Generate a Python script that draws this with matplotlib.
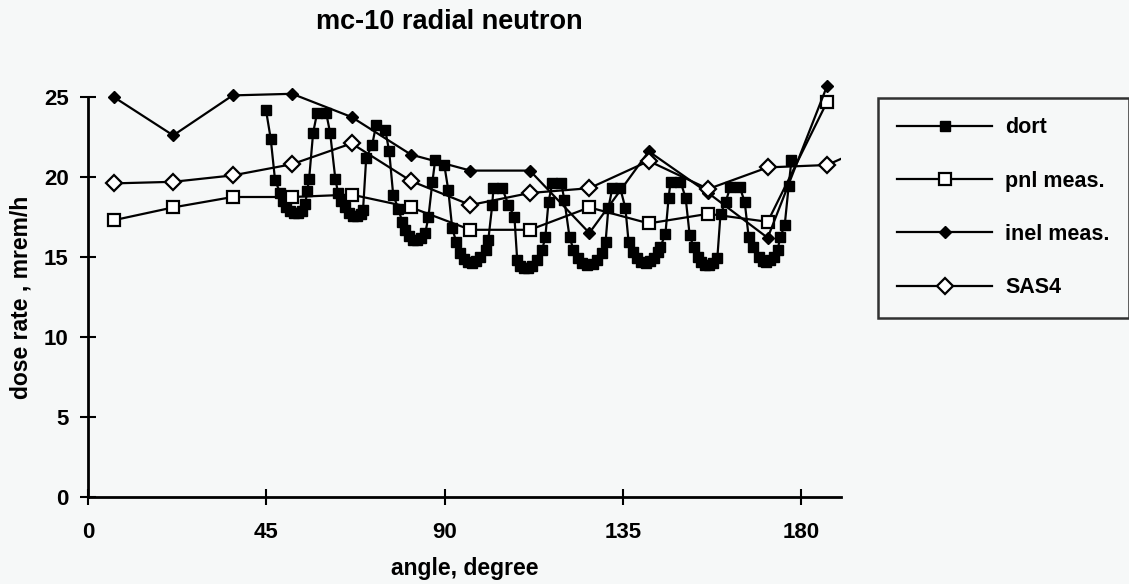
import numpy as np
import matplotlib
matplotlib.use('Agg')
import matplotlib.pyplot as plt

plt.rcParams['font.family'] = ['Liberation Sans Narrow', 'Liberation Sans', 'DejaVu Sans']
plt.rcParams['font.weight'] = 'bold'

# measurement / SAS4 angles (degree)
meas_angle = [6.5, 21.5, 36.5, 51.5, 66.5, 81.5, 96.5, 111.5, 126.5, 141.5, 156.5, 171.5, 186.5]
pnl_meas = [17.3, 18.1, 18.75, 18.75, 18.9, 18.1, 16.7, 16.7, 18.1, 17.1, 17.7, 17.2, 24.7]
inel_meas = [25.0, 22.6, 25.1, 25.2, 23.75, 21.4, 20.4, 20.4, 16.5, 21.6, 19.0, 16.2, 25.7]
sas4_angle = meas_angle + [201.5]
sas4 = [19.6, 19.7, 20.1, 20.8, 22.1, 19.75, 18.25, 19.0, 19.3, 21.0, 19.25, 20.6, 20.75, 22.4]

# dort calculation
dort_angle = [44.9, 46.1, 47.2, 48.5, 49.2, 50.0, 51.0, 52.0, 53.0, 54.0, 54.8, 55.3, 55.8, 56.8, 57.8,
              60.1, 61.1, 62.4, 63.1, 63.9, 64.9, 65.9, 66.9, 67.9, 68.9, 69.4, 70.2, 71.7, 72.7,
              75.0, 76.0, 77.0, 78.3, 79.3, 80.1, 81.1, 82.1, 83.1, 84.1, 85.1, 85.9, 86.9, 87.6,
              89.9, 90.9, 91.9, 92.9, 93.9, 94.9, 96.0, 97.0, 98.0, 99.0, 100.3, 101.0, 102.0, 102.3,
              104.5, 106.1, 107.6, 108.3, 109.1, 110.1, 111.1, 112.1, 113.4, 114.6, 115.4, 116.2, 117.2,
              119.4, 120.2, 121.5, 122.5, 123.7, 124.7, 126.0, 127.3, 128.5, 129.8, 130.6, 131.3, 132.3,
              134.3, 135.6, 136.4, 137.6, 138.6, 139.6, 140.7, 141.7, 142.7, 143.7, 144.4, 145.7, 146.5, 147.0,
              149.5, 150.8, 151.8, 152.8, 153.8, 154.8, 155.8, 156.8, 157.8, 158.8, 159.6, 160.9, 162.1,
              164.4, 165.7, 166.7, 167.9, 169.2, 170.2, 171.2, 172.2, 173.0, 174.0, 174.7, 175.8, 176.8, 177.5]
dort = [24.2, 22.4, 19.8, 19.0, 18.5, 18.1, 17.9, 17.75, 17.75, 17.9, 18.3, 19.1, 19.9, 22.75, 24.0,
        24.0, 22.75, 19.9, 19.0, 18.5, 18.1, 17.75, 17.55, 17.55, 17.7, 17.95, 21.2, 22.0, 23.25,
        22.95, 21.6, 18.9, 18.0, 17.2, 16.7, 16.3, 16.05, 16.05, 16.2, 16.5, 17.5, 19.7, 21.05,
        20.75, 19.2, 16.8, 15.95, 15.25, 14.9, 14.7, 14.6, 14.75, 15.0, 15.45, 16.05, 18.25, 19.3,
        19.3, 18.25, 17.5, 14.8, 14.45, 14.3, 14.3, 14.45, 14.8, 15.45, 16.25, 18.45, 19.65,
        19.65, 18.55, 16.25, 15.45, 14.95, 14.65, 14.5, 14.55, 14.8, 15.25, 15.95, 18.05, 19.3,
        19.3, 18.05, 15.95, 15.3, 14.95, 14.7, 14.6, 14.75, 14.95, 15.3, 15.6, 16.45, 18.7, 19.7,
        19.7, 18.7, 16.4, 15.6, 15.0, 14.7, 14.5, 14.5, 14.6, 14.95, 17.7, 18.45, 19.4,
        19.4, 18.45, 16.25, 15.6, 15.0, 14.75, 14.7, 14.8, 15.0, 15.45, 16.25, 17.0, 19.45, 21.05]

bg = '#f6f8f8'
fig = plt.figure(figsize=(11.29, 5.84), dpi=100, facecolor=bg)
ax = fig.add_axes([88/1129, 87/584, 753/1129, 400/584])
ax.set_facecolor(bg)

lw = 1.6
ax.plot(dort_angle, dort, color='black', lw=lw, marker='s', ms=6.5,
        mfc='black', mec='black', label='dort', clip_on=False, zorder=3)
ax.plot(meas_angle, pnl_meas, color='black', lw=lw, marker='s', ms=9,
        mfc='white', mec='black', mew=1.6, label='pnl meas.', clip_on=False, zorder=4)
ax.plot(meas_angle, inel_meas, color='black', lw=lw, marker='D', ms=6,
        mfc='black', mec='black', label='inel meas.', clip_on=False, zorder=4)
ax.plot(sas4_angle, sas4, color='black', lw=lw, marker='D', ms=8,
        mfc='white', mec='black', mew=1.6, label='SAS4', zorder=4)

ax.set_xlim(0, 190)
ax.set_ylim(0, 25)
ax.set_xticks([0, 45, 90, 135, 180])
ax.set_yticks([0, 5, 10, 15, 20, 25])
for s in ['top', 'right']:
    ax.spines[s].set_visible(False)
for s in ['left', 'bottom']:
    ax.spines[s].set_linewidth(2)
ax.tick_params(direction='inout', length=12, width=1.5, labelsize=16, pad=8)
ax.tick_params(axis='x', pad=12)

ax.set_xlabel('angle, degree', fontsize=16.5, fontweight='bold', labelpad=10)
ax.set_ylabel('dose rate , mrem/h', fontsize=16.5, fontweight='bold', labelpad=8)
fig.text(316/1129, 1 - 22/584, 'mc-10 radial neutron', fontsize=19.5, fontweight='bold',
         ha='left', va='center')

leg = ax.legend(loc='upper left', bbox_to_anchor=(878/1129, 1 - 98/584),
                bbox_transform=fig.transFigure, fancybox=False, frameon=True,
                edgecolor='black', facecolor=bg, fontsize=15.5, handlelength=4.4,
                labelspacing=1.5, borderpad=0.9, handletextpad=0.6, borderaxespad=0)
leg.get_frame().set_linewidth(1.8)

fig.savefig('out.png', dpi=100, facecolor=bg)
